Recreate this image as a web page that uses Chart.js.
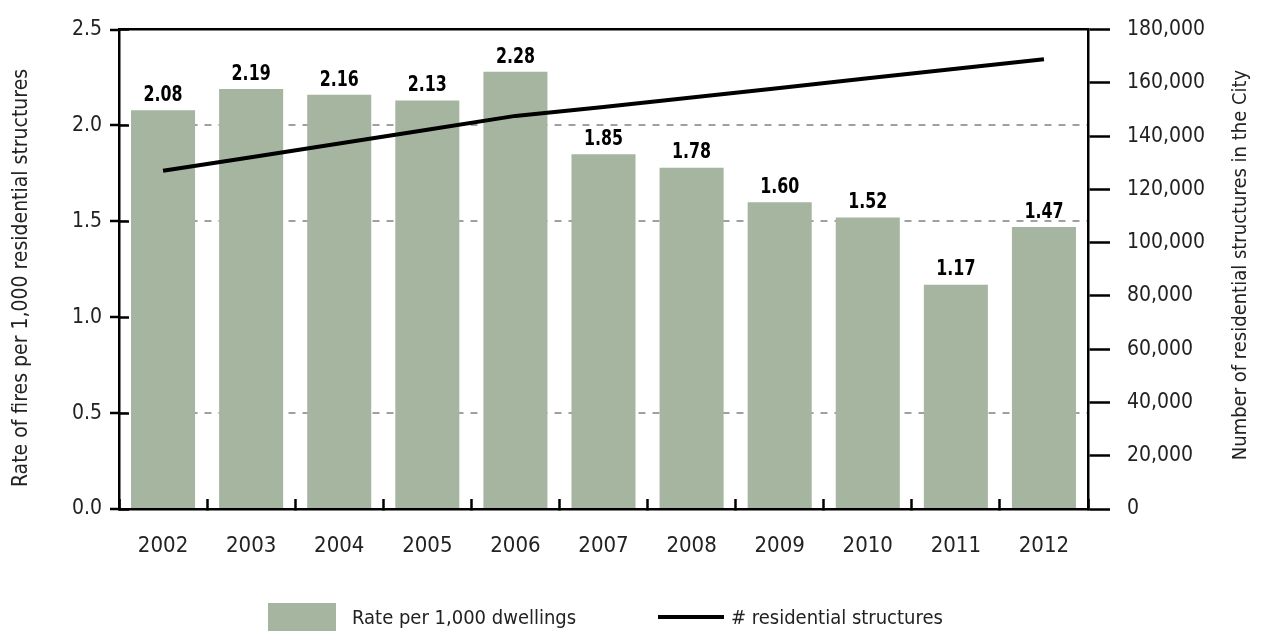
<!DOCTYPE html>
<html>
<head>
<meta charset="utf-8">
<script src="https://cdn.jsdelivr.net/npm/chart.js@4.4.1/dist/chart.umd.min.js"></script>
<style>
  body { margin: 0; background: #fff; }
  #wrap { position: relative; width: 1262px; height: 631px; }
  .legend-item {
    position: absolute; top: 603px; height: 28px;
    display: flex; align-items: center;
    font-family: "DejaVu Sans Condensed", sans-serif;
    font-size: 20px; color: #222; white-space: nowrap;
  }
  .swatch { display: inline-block; width: 68px; height: 28px; background: #a5b5a0; margin-right: 16px; }
  .line { display: inline-block; width: 66px; height: 4px; background: #000; margin-right: 7px; }
</style>
</head>
<body>
<div id="wrap">
  <canvas id="fireChart" width="1262" height="631"></canvas>
  <div class="legend-item" style="left:268px"><span class="swatch"></span><span>Rate per 1,000 dwellings</span></div>
  <div class="legend-item" style="left:658px"><span class="line"></span><span># residential structures</span></div>
</div>
<script>
// Dados do gráfico
const years = ['2002', '2003', '2004', '2005', '2006', '2007', '2008', '2009', '2010', '2011', '2012'];
const fireRate = [2.08, 2.19, 2.16, 2.13, 2.28, 1.85, 1.78, 1.60, 1.52, 1.17, 1.47];
const structures = [127000, 132100, 137200, 142400, 147600, 150900, 154500, 158100, 161700, 165300, 168900];
const rateGridValues = [0.5, 1.5, 2.0]; // linhas tracejadas visíveis

const FONT = '"DejaVu Sans Condensed", sans-serif';
const leftTitle = 'Rate of fires per 1,000 residential structures';
const rightTitle = 'Number of residential structures in the City';

// Rótulos em negrito acima das barras
const barLabels = {
    id: 'barLabels',
    afterDatasetsDraw(chart) {
        const ctx = chart.ctx;
        const meta = chart.getDatasetMeta(1);
        ctx.save();
        ctx.font = 'bold 22px ' + FONT;
        ctx.fillStyle = '#000';
        ctx.textAlign = 'center';
        ctx.textBaseline = 'bottom';
        meta.data.forEach((bar, i) => {
            ctx.save();
            ctx.translate(bar.x, bar.y - 4);
            ctx.scale(0.8, 1); // imitar fonte condensada
            ctx.fillText(fireRate[i].toFixed(2), 0, 0);
            ctx.restore();
        });
        ctx.restore();
    }
};

// Títulos dos eixos (ambos lidos de baixo para cima)
const axisTitles = {
    id: 'axisTitles',
    afterDraw(chart) {
        const ctx = chart.ctx;
        const draw = (text, x, y, size) => {
            ctx.save();
            ctx.translate(x, y);
            ctx.rotate(-Math.PI / 2);
            ctx.font = size + 'px ' + FONT;
            ctx.fillStyle = '#222';
            ctx.textAlign = 'center';
            ctx.textBaseline = 'middle';
            ctx.fillText(text, 0, 0);
            ctx.restore();
        };
        draw(leftTitle, 22, 278, 21);
        draw(rightTitle, 1241, 265, 20);
    }
};

var ctx1 = document.getElementById('fireChart').getContext('2d');
new Chart(ctx1, {
    data: {
        labels: years,
        datasets: [{
            type: 'line',
            label: '# residential structures',
            data: structures,
            yAxisID: 'y2',
            borderColor: '#000',
            borderWidth: 4,
            pointRadius: 0,
            tension: 0,
            fill: false,
            order: 0
        }, {
            type: 'bar',
            label: 'Rate per 1,000 dwellings',
            data: fireRate,
            yAxisID: 'y',
            backgroundColor: '#a5b5a0',
            categoryPercentage: 1,
            barPercentage: 0.727,
            order: 1
        }]
    },
    options: {
        responsive: false,
        animation: false,
        layout: { padding: { top: 24, bottom: 62, left: 0, right: 0 } },
        plugins: {
            legend: { display: false },
            tooltip: { enabled: false }
        },
        scales: {
            x: {
                position: 'bottom',
                grid: { offset: true, drawOnChartArea: false, tickLength: -10, tickColor: '#000', tickWidth: 2.5 },
                border: { color: '#000', width: 2.5 },
                ticks: { color: '#222', font: { family: FONT, size: 22 }, padding: 34, maxRotation: 0 },
                afterFit: s => { s.height = 60; }
            },
            xTop: {
                type: 'category',
                position: 'top',
                grid: { display: false, drawTicks: false },
                ticks: { display: false },
                border: { color: '#000', width: 2.5 },
                afterFit: s => { s.height = 0; }
            },
            y: {
                position: 'left',
                min: 0,
                max: 2.5,
                ticks: {
                    stepSize: 0.5,
                    padding: 8,
                    color: '#222',
                    font: { family: FONT, size: 21 },
                    callback: v => v.toFixed(1)
                },
                grid: {
                    color: c => rateGridValues.includes(c.tick && c.tick.value) ? '#a0a0a0' : 'rgba(0,0,0,0)',
                    lineWidth: 2,
                    tickLength: 9,
                    tickColor: '#000',
                    tickWidth: 2.5
                },
                border: { color: '#000', width: 2.5, dash: [7, 7] },
                afterFit: s => { s.width = 119; }
            },
            // parte interna das marcas do eixo esquerdo
            yInner: {
                position: 'left',
                weight: -1,
                min: 0,
                max: 2.5,
                ticks: { stepSize: 0.5, display: false },
                grid: { drawOnChartArea: false, tickLength: -10, tickColor: '#000', tickWidth: 2.5 },
                border: { display: false },
                afterFit: s => { s.width = 0; }
            },
            y2: {
                position: 'right',
                min: 0,
                max: 180000,
                ticks: {
                    stepSize: 20000,
                    padding: 17,
                    color: '#222',
                    font: { family: FONT, size: 21 },
                    callback: v => v.toLocaleString('en-US')
                },
                grid: { drawOnChartArea: false, tickLength: 22, tickColor: '#000', tickWidth: 2.5 },
                border: { color: '#000', width: 2.5 },
                afterFit: s => { s.width = 1262 - 1088; }
            }
        }
    },
    plugins: [barLabels, axisTitles]
});
</script>
</body>
</html>
